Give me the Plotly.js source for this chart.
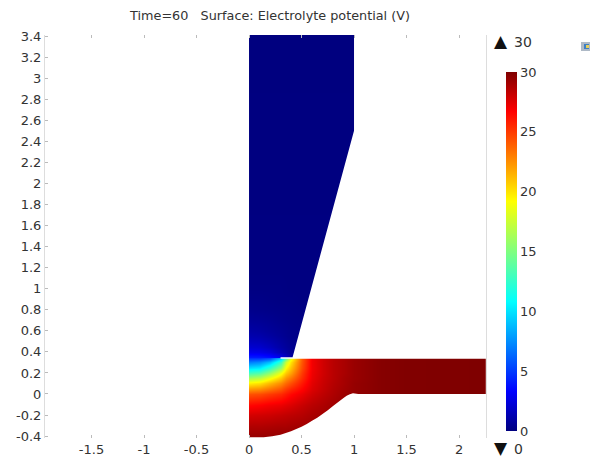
<!DOCTYPE html>
<html><head><meta charset="utf-8">
<script src="https://cdn.plot.ly/plotly-3.0.1.min.js"></script>
<style>html,body{margin:0;padding:0;background:#fff}#c{width:590px;height:463px}</style>
</head><body><div id="c"></div>
<script>
const titleText = 'Time=60\u00a0\u00a0\u00a0Surface: Electrolyte potential (V)';
const xTicks = [-1.5,-1,-0.5,0,0.5,1,1.5,2];
const xTickLabels = ['-1.5','-1','-0.5','0','0.5','1','1.5','2'];
const yTicks = [-0.4,-0.2,0,0.2,0.4,0.6,0.8,1,1.2,1.4,1.6,1.8,2,2.2,2.4,2.6,2.8,3,3.2,3.4];
const yTickLabels = ['-0.4','-0.2','0','0.2','0.4','0.6','0.8','1','1.2','1.4','1.6','1.8','2','2.2','2.4','2.6','2.8','3','3.2','3.4'];
const barTicks = [0,5,10,15,20,25,30];

// lower pool (last two rows sit together so the image stops at the seam)
const lowX = [0,0.1,0.2,0.3,0.35,0.4,0.5,0.6,0.7,0.8,0.9,1,1.25,1.5,2.3];
const lowY = [-0.42,-0.3,-0.2,-0.1,0,0.05,0.1,0.15,0.2,0.25,0.3,0.3419,0.342];
const lowZ = [
 [29.5,29.5,29.5,29.6,29.6,29.6,29.7,29.8,29.8,29.9,29.9,30,30,30,30],
 [28.7,28.7,28.8,28.9,28.9,29,29.1,29.2,29.4,29.5,29.7,29.8,29.9,30,30],
 [27.8,27.9,28,28.2,28.3,28.4,28.6,28.9,29.1,29.3,29.5,29.7,29.9,30,30],
 [26.5,26.7,27,27.2,27.4,27.6,28.1,28.5,28.8,29.1,29.4,29.6,29.8,29.95,30],
 [24.3,24.5,25,25.5,26,26.5,27.2,27.9,28.4,28.8,29.2,29.5,29.8,29.95,30],
 [22.2,22.5,23.3,24.2,25,25.6,26.6,27.6,28.2,28.7,29.1,29.4,29.8,29.95,30],
 [19.5,20,21.3,22.6,23.6,24.4,26,27.4,28.1,28.6,29,29.4,29.8,29.95,30],
 [16.3,17,18.8,20.8,22.3,23.2,25.4,27.2,28,28.5,29,29.3,29.8,29.95,30],
 [13,13.6,15.7,18.8,20.8,22,25,27.1,27.9,28.5,28.9,29.3,29.8,29.95,30],
 [10,10.4,12.5,15.8,19.3,21,24.5,27,27.9,28.5,28.9,29.3,29.8,29.95,30],
 [7,7.5,9,12.7,17.5,20,24.2,27,27.9,28.5,28.9,29.3,29.8,29.95,30],
 [4.8,4.8,5.5,9,13.5,18.5,24,27,27.9,28.5,28.9,29.3,29.8,29.95,30],
 [4.8,4.8,5.5,9,13.5,18.5,24,27,27.9,28.5,28.9,29.3,29.8,29.95,30]
];

// upper chamber (first two rows sit together for the same reason)
const upX = [0,0.1,0.2,0.3,0.4,0.5,0.6,0.8,1.05];
const upY = [0.32,0.3201,0.4,0.45,0.5,0.55,0.6,0.7,0.8,0.9,1,1.2,3.45];
const upZ = [
 [4.8,4.8,4.5,3.5,1,0.6,0.4,0.3,0.3],
 [4.8,4.8,4.5,3.5,1,0.6,0.4,0.3,0.3],
 [2.8,2.7,2.3,1.4,0.6,0.4,0.3,0.2,0.2],
 [2.1,2,1.6,1,0.5,0.3,0.2,0.2,0.2],
 [1.6,1.5,1.2,0.8,0.4,0.25,0.2,0.15,0.1],
 [1.25,1.15,0.9,0.6,0.3,0.2,0.15,0.1,0.1],
 [1,0.9,0.7,0.5,0.3,0.2,0.15,0.1,0.1],
 [0.6,0.55,0.45,0.3,0.2,0.15,0.1,0.1,0.05],
 [0.35,0.3,0.25,0.2,0.15,0.1,0.1,0.05,0.05],
 [0.2,0.2,0.15,0.1,0.1,0.05,0.05,0.05,0.05],
 [0.1,0.1,0.1,0.1,0.05,0.05,0.05,0.05,0.05],
 [0.05,0.05,0.05,0.05,0.05,0.05,0.05,0.05,0.05],
 [0,0,0,0,0,0,0,0,0]
];

// geometry outline, used to white out what lies outside the domain
const leftMaskX = [-3,0,0,-3];
const leftMaskY = [-1,-1,4,4];
const wedgeMaskX = [0.3,0.415,1,1,3,3,0.3];
const wedgeMaskY = [0.35,0.35,2.5,3.6,3.6,0.335,0.335];
const floorMaskX = [0,0.14,0.22,0.3,0.4,0.5,0.55,0.6,0.65,0.7,0.75,0.8,0.85,0.9,0.93,0.96,0.99,1.04,3,3,0];
const floorMaskY = [-0.41,-0.41,-0.402,-0.388,-0.355,-0.31,-0.285,-0.255,-0.225,-0.19,-0.155,-0.115,-0.075,-0.037,-0.016,-0.003,0.006,0,0,-1,-1];
const topMaskX = [-3,3,3,-3];
const topMaskY = [3.41,3.41,4,4];

const jet = [[0,'#00007f'],[0.11,'#0000ff'],[0.36,'#00ffff'],[0.5,'#7fff7f'],[0.64,'#ffff00'],[0.89,'#ff0000'],[1,'#7f0000']];
const mask = (x,y)=>({x,y,type:'scatter',mode:'none',fill:'toself',fillcolor:'#fff',hoverinfo:'skip',showlegend:false});
const cbar = {thickness:11,thicknessmode:'pixels',len:359,lenmode:'pixels',x:(506-45)/441,xanchor:'left',xpad:0,
  y:(438-72)/403,yanchor:'top',ypad:0,outlinewidth:0,tickvals:barTicks,ticktext:barTicks.map(String),ticks:'',ticklabelposition:'outside',
  tickfont:{family:'DejaVu Sans',size:13,color:'#333'}};
const data = [
 {type:'heatmap',x:upX,y:upY,z:upZ,coloraxis:'coloraxis',zsmooth:'best',hoverinfo:'skip'},
 {type:'heatmap',x:lowX,y:lowY,z:lowZ,coloraxis:'coloraxis',zsmooth:'best',hoverinfo:'skip'},
 mask(leftMaskX,leftMaskY),mask(wedgeMaskX,wedgeMaskY),mask(floorMaskX,floorMaskY),mask(topMaskX,topMaskY)
];
const tickFont = {family:'DejaVu Sans',size:13,color:'#333'};
const note = (px,py,text,size,color)=>({xref:'paper',yref:'paper',x:(px-45)/441,y:(438-py)/403,xanchor:'left',yanchor:'middle',showarrow:false,
  text,borderpad:0,font:{family:'DejaVu Sans',size,color}});
const layout = {
 width:590,height:463,paper_bgcolor:'#fff',plot_bgcolor:'#fff',showlegend:false,
 margin:{l:45,r:104,t:35,b:25,pad:0},
 title:{text:titleText,font:{family:'DejaVu Sans',size:12.8,color:'#333'},x:270/590,xanchor:'center',y:1-16/463,yanchor:'middle'},
 coloraxis:{cmin:0,cmax:30,colorscale:jet,colorbar:cbar},
 xaxis:{range:[-1.943,2.257],tickvals:xTicks,ticktext:xTickLabels,ticks:'inside',ticklen:3,tickwidth:1,tickcolor:'#bbb',
   mirror:'ticks',showgrid:false,zeroline:false,showline:false,tickfont:tickFont,ticklabelstandoff:2},
 yaxis:{range:[-0.418,3.41],tickvals:yTicks,ticktext:yTickLabels,ticks:'inside',ticklen:3,tickwidth:1,tickcolor:'#bbb',
   mirror:true,showgrid:false,zeroline:false,showline:true,linecolor:'#ddd',linewidth:1,tickfont:tickFont},
 annotations:[
  note(493,41,'\u25B2',17,'#111'),
  note(513,42,'30',14,'#333'),
  note(493,448,'\u25BC',17,'#111'),
  note(513,449,'0',14,'#333')
 ],
 shapes:[
  {type:'rect',xref:'paper',yref:'paper',x0:(581-45)/441,x1:(590-45)/441,y0:(438-42)/403,y1:(438-51)/403,fillcolor:'#aeb9c6',line:{width:0}},
  {type:'rect',xref:'paper',yref:'paper',x0:(584-45)/441,x1:(589-45)/441,y0:(438-44)/403,y1:(438-49)/403,fillcolor:'#3d7fc4',line:{width:0}},
  {type:'rect',xref:'paper',yref:'paper',x0:(586-45)/441,x1:(589-45)/441,y0:(438-45)/403,y1:(438-48)/403,fillcolor:'#e6cf5a',line:{width:0}}
 ]
};
Plotly.newPlot('c',data,layout,{displayModeBar:false,staticPlot:true});
</script></body></html>
